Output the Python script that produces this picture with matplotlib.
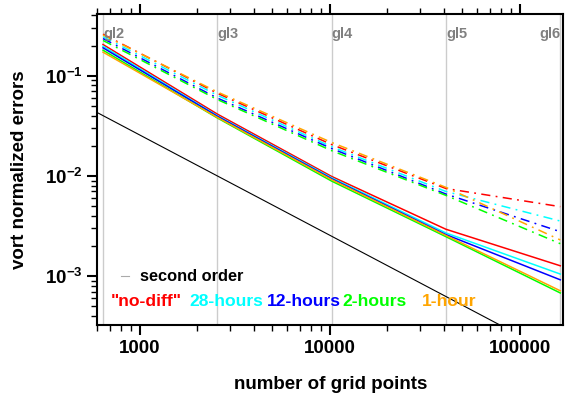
import matplotlib
matplotlib.use('Agg')
import matplotlib.pyplot as plt
from matplotlib.ticker import LogLocator, NullFormatter

plt.rcParams['font.family'] = ['Liberation Sans', 'DejaVu Sans']
plt.rcParams['font.weight'] = 'bold'
plt.rcParams['axes.labelweight'] = 'bold'

# grid levels (icosahedral grid points)
gl_names = ['gl2', 'gl3', 'gl4', 'gl5', 'gl6']
npts = [642, 2562, 10242, 40962, 163842]

runs = ['"no-diff"', '28-hours', '12-hours', '2-hours', '1-hour']
colors = ['red', 'cyan', 'blue', 'lime', 'orange']

# solid lines (l2 type error)
err_l2 = {
    '"no-diff"': [0.205, 0.0415, 0.0099, 2.94e-3, 1.27e-3],
    '28-hours':  [0.197, 0.0400, 0.0096, 2.70e-3, 1.05e-3],
    '12-hours':  [0.190, 0.0395, 0.0094, 2.60e-3, 9.2e-4],
    '2-hours':   [0.180, 0.0380, 0.0089, 2.48e-3, 6.8e-4],
    '1-hour':    [0.172, 0.0385, 0.0092, 2.55e-3, 7.15e-4],
}
# dash-dot lines (max type error)
err_max = {
    '"no-diff"': [0.260, 0.067, 0.0206, 7.5e-3, 4.94e-3],
    '28-hours':  [0.245, 0.064, 0.0196, 7.0e-3, 3.55e-3],
    '12-hours':  [0.235, 0.060, 0.0188, 6.6e-3, 2.78e-3],
    '2-hours':   [0.225, 0.058, 0.0179, 6.4e-3, 2.11e-3],
    '1-hour':    [0.255, 0.069, 0.0216, 7.7e-3, 2.30e-3],
}

# second order reference
ref_x = [500, 200000]
ref_y = [0.05136, 1.284e-4]

fig = plt.figure(figsize=(5.65, 3.95), dpi=100)
ax = fig.add_axes([0.172, 0.177, 0.825, 0.788])

for x, name in zip(npts, gl_names):
    ax.axvline(x, color='#cccccc', lw=1, zorder=0)

for run, c in zip(runs, colors):
    ax.plot(npts, err_l2[run], color=c, lw=1.1)
    ax.plot(npts, err_max[run], color=c, lw=1.1, ls=(0, (6, 3.5, 1.2, 3.5)))

ax.plot(ref_x, ref_y, color='black', lw=0.8)

ax.set_xscale('log')
ax.set_yscale('log')
ax.set_xlim(598, 170000)
ax.set_ylim(3.25e-4, 0.415)

for x, name in zip(npts, gl_names):
    ha = 'right' if name == 'gl6' else 'left'
    ax.text(x, 0.262, name, color='gray', fontsize=10.5, ha=ha, va='center',
            fontweight='bold')

ax.set_xticks([1000, 10000, 100000])
ax.set_xticklabels(['1000', '10000', '100000'])
ax.xaxis.set_minor_locator(LogLocator(base=10, subs=range(2, 10)))
ax.xaxis.set_minor_formatter(NullFormatter())
ax.yaxis.set_minor_locator(LogLocator(base=10, subs=range(2, 10)))
ax.yaxis.set_minor_formatter(NullFormatter())
ax.tick_params(axis='both', which='major', labelsize=13.5, direction='out',
               length=7, width=1.5)
ax.tick_params(axis='both', which='minor', direction='out', length=4, width=1)
ax.tick_params(axis='x', which='both', top=True)
ax.tick_params(axis='y', which='both', right=False)
for s in ax.spines.values():
    s.set_linewidth(1.5)

ax.set_xlabel('number of grid points', fontsize=13.5, labelpad=14)
ax.set_ylabel('vort normalized errors', fontsize=13.5, labelpad=12)

# legend-like labels
ax.plot([0.052, 0.069], [0.158, 0.158], transform=ax.transAxes,
        color='#aaaaaa', lw=0.8)
ax.text(0.092, 0.155, 'second order', transform=ax.transAxes, fontsize=11.8,
        va='center', ha='left')
label_x = [0.029, 0.197, 0.3635, 0.527, 0.696]
for lx, run, c in zip(label_x, runs, colors):
    ax.text(lx, 0.075, run, transform=ax.transAxes, color=c, fontsize=12.6,
            va='center', ha='left')

fig.savefig('out.png', dpi=100)
